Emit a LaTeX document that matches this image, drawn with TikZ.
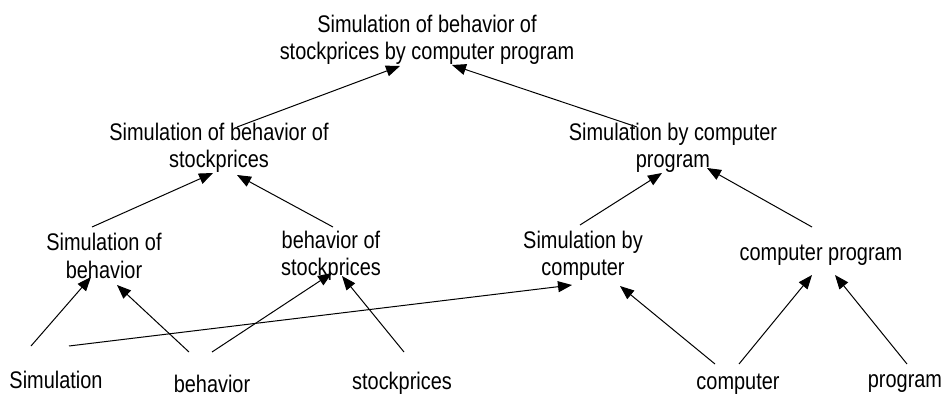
\documentclass[tikz,border=0pt]{standalone}
\usepackage{fontspec}
\setmainfont{Liberation Sans}[FakeStretch=0.83]
\usepackage{tikz}
\usetikzlibrary{calc,arrows.meta}

\tikzset{
  phrase/.style={inner sep=0pt, align=center, font=\fontsize{24}{27.5}\selectfont},
  arr/.style={-{Triangle[length=14pt,width=11pt]}, line width=1pt},
}

\begin{document}
\begin{tikzpicture}[x=1pt,y=-1pt]
    \useasboundingbox (0,0) rectangle (945,396);

    \node[phrase] (top) at (427,40) {Simulation of behavior of\\stockprices by computer program};

    \node[phrase] (sobos) at (219,148) {Simulation of behavior of\\stockprices};
    \node[phrase] (sbcp) at (673,148) {Simulation by computer\\program};

    \node[phrase] (sob) at (104,256) {Simulation of\\behavior};
    \node[phrase] (bos) at (331,256) {behavior of\\stockprices};
    \node[phrase] (sbc) at (583,256) {Simulation by\\computer};
    \node[phrase] (cp) at (821,255) {computer program};

    \node[phrase] (sim) at (56,380) {Simulation};
    \node[phrase] (beh) at (212,384) {behavior};
    \node[phrase] (stock) at (402,383) {stockprices};
    \node[phrase] (comp) at (738,384) {computer};
    \node[phrase] (prog) at (905,384) {program};

    \draw[arr] ($(sim)+(-25,-34)$) -- ($(sob)+(-13,21)$);
    \draw[arr] ($(sim)+(13,-34)$) -- ($(sbc)+(-11,29)$);
    \draw[arr] ($(beh)+(-23,-32)$) -- ($(sob)+(13,29)$);
    \draw[arr] ($(beh)+(0,-32)$) -- ($(bos)+(1,17)$);
    \draw[arr] ($(stock)+(2,-31)$) -- ($(bos)+(11,20)$);
    \draw[arr] ($(comp)+(-23,-20)$) -- ($(sbc)+(37,30)$);
    \draw[arr] ($(comp)+(1,-20)$) -- ($(cp)+(-9,20)$);
    \draw[arr] ($(prog)+(2,-20)$) -- ($(cp)+(14,20)$);

    \draw[arr] ($(sob)+(-12,-29)$) -- ($(sobos)+(-6,25)$);
    \draw[arr] ($(bos)+(2,-29)$) -- ($(sobos)+(18,27)$);
    \draw[arr] ($(sbc)+(-3,-31)$) -- ($(sbcp)+(-11,25)$);
    \draw[arr] ($(cp)+(-9,-28)$) -- ($(sbcp)+(34,20)$);

    \draw[arr] ($(sobos)+(18,-21)$) -- ($(top)+(-27,26)$);
    \draw[arr] ($(sbcp)+(-36,-21)$) -- ($(top)+(25,25)$);
\end{tikzpicture}
\end{document}
